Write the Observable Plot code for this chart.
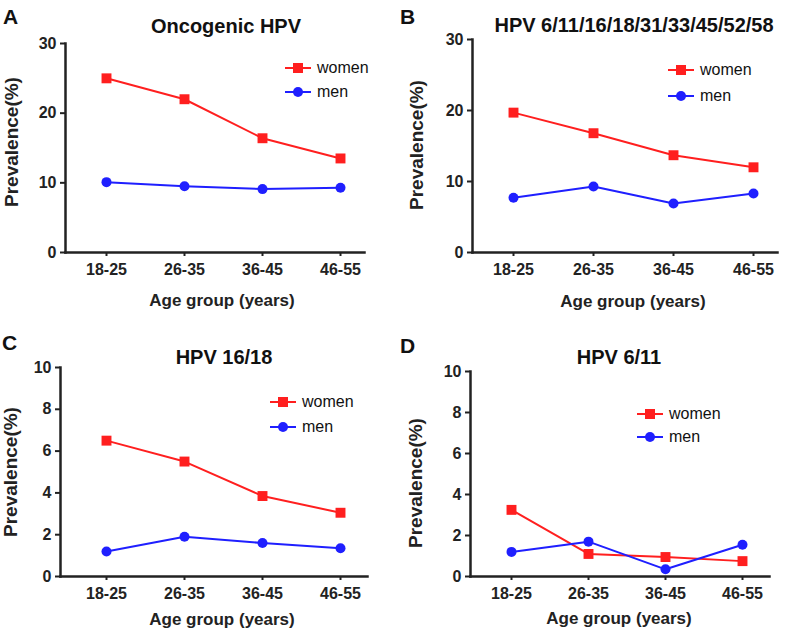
<!DOCTYPE html>
<html>
<head>
<meta charset="utf-8">
<script src="https://cdn.jsdelivr.net/npm/d3@7"></script>
<script src="https://cdn.jsdelivr.net/npm/@observablehq/plot@0.6"></script>
<style>
  html, body { margin: 0; padding: 0; background: #fff; }
  #root { position: relative; width: 794px; height: 636px; font-family: "Liberation Sans", Arial, sans-serif; color: #222; overflow: hidden; }
  .panel { position: absolute; width: 397px; height: 318px; }
  .panel svg { position: absolute; left: 0; top: 0; }
  .abs { position: absolute; white-space: nowrap; line-height: 1; }
  .letter { font-size: 21px; font-weight: bold; color: #111; }
  .title { font-size: 20px; font-weight: bold; color: #111; transform: translate(-50%, -50%); }
  .xlab { font-size: 17px; font-weight: bold; transform: translate(-50%, -50%); }
  .ylab { font-size: 19px; font-weight: bold; transform: translate(-50%, -50%) rotate(-90deg); }
  .leg { font-size: 16px; color: #111; transform: translateY(-50%); display: flex; align-items: center; }
  .leg svg { position: static; margin-right: 6px; }
</style>
</head>
<body>
<div id="root"></div>
<script>
// ---- data ----
const ages = ["18-25", "26-35", "36-45", "46-55"];
const series = ["women", "men"];
const panelLetters = ["A", "B", "C", "D"];
const panelTitles = ["Oncogenic HPV", "HPV 6/11/16/18/31/33/45/52/58", "HPV 16/18", "HPV 6/11"];
const womenA = [25.0, 22.0, 16.4, 13.5];
const menA   = [10.1, 9.5, 9.1, 9.3];
const womenB = [19.7, 16.8, 13.7, 12.0];
const menB   = [7.7, 9.3, 6.9, 8.3];
const womenC = [6.5, 5.5, 3.85, 3.05];
const menC   = [1.2, 1.9, 1.6, 1.35];
const womenD = [3.25, 1.1, 0.95, 0.75];
const menD   = [1.2, 1.7, 0.35, 1.55];
const yTicksWide = [0, 10, 20, 30];
const yTicksNarrow = [0, 2, 4, 6, 8, 10];
const xLabel = "Age group (years)";
const yLabel = "Prevalence(%)";

const RED = "#ff1f1f";
const BLUE = "#1f1fff";
const INK = "#222";

// ---- layout (pixels) ----
const layouts = [
  {left: 0,   top: 0,   ml: 65, mt: 43, mb: 66, mr: 33, xr: [105, 340], letter: [3, 6],  title: [226, 26], xl: [222, 300], yl: [11, 142], leg: [285, 68, 92]},
  {left: 397, top: 0,   ml: 75, mt: 39, mb: 66, mr: 17, xr: [116, 356], letter: [3, 6],  title: [237, 25], xl: [236, 301], yl: [19, 145], leg: [271, 70, 96]},
  {left: 0,   top: 318, ml: 60, mt: 49, mb: 60, mr: 30, xr: [105, 340], letter: [2, 14], title: [224, 39], xl: [222, 301], yl: [10, 154], leg: [270, 84, 109]},
  {left: 397, top: 318, ml: 73, mt: 53, mb: 60, mr: 25, xr: [114, 345], letter: [3, 17], title: [222, 39], xl: [222, 300], yl: [18, 165], leg: [240, 96, 119]}
];
const panelData = [
  {women: womenA, men: menA, ymax: 30, ticks: yTicksWide},
  {women: womenB, men: menB, ymax: 30, ticks: yTicksWide},
  {women: womenC, men: menC, ymax: 10, ticks: yTicksNarrow},
  {women: womenD, men: menD, ymax: 10, ticks: yTicksNarrow}
];

const root = document.getElementById("root");

function el(cls, text, x, y) {
  const d = document.createElement("div");
  d.className = "abs " + cls;
  d.textContent = text;
  d.style.left = x + "px";
  d.style.top = y + "px";
  return d;
}

function legendIcon(kind) {
  const ns = "http://www.w3.org/2000/svg";
  const s = document.createElementNS(ns, "svg");
  s.setAttribute("width", 26); s.setAttribute("height", 12);
  const color = kind === "women" ? RED : BLUE;
  const l = document.createElementNS(ns, "line");
  l.setAttribute("x1", 0); l.setAttribute("x2", 26); l.setAttribute("y1", 6); l.setAttribute("y2", 6);
  l.setAttribute("stroke", color); l.setAttribute("stroke-width", 2);
  s.appendChild(l);
  if (kind === "women") {
    const r = document.createElementNS(ns, "rect");
    r.setAttribute("x", 8); r.setAttribute("y", 1); r.setAttribute("width", 10); r.setAttribute("height", 10);
    r.setAttribute("fill", color); s.appendChild(r);
  } else {
    const c = document.createElementNS(ns, "circle");
    c.setAttribute("cx", 13); c.setAttribute("cy", 6); c.setAttribute("r", 5);
    c.setAttribute("fill", color); s.appendChild(c);
  }
  return s;
}

panelData.forEach((pd, i) => {
  const L = layouts[i];
  const panel = document.createElement("div");
  panel.className = "panel";
  panel.style.left = L.left + "px";
  panel.style.top = L.top + "px";

  const rows = [];
  series.forEach(s => pd[s].forEach((v, j) => rows.push({age: ages[j], value: v, series: s})));
  const women = rows.filter(d => d.series === "women");
  const men = rows.filter(d => d.series === "men");

  const chart = Plot.plot({
    width: 397,
    height: 318,
    marginLeft: L.ml,
    marginTop: L.mt,
    marginBottom: L.mb,
    marginRight: L.mr,
    style: {fontFamily: '"Liberation Sans", Arial, sans-serif', background: "transparent", color: INK},
    x: {type: "point", domain: ages, range: L.xr, padding: 0},
    y: {domain: [0, pd.ymax]},
    marks: [
      Plot.axisY({ticks: pd.ticks, tickSize: 5, tickPadding: 4, fontSize: 16, fontWeight: "bold", stroke: INK, fill: INK, strokeWidth: 2, label: null}),
      Plot.axisX({tickSize: 4, tickPadding: 7, fontSize: 16, fontWeight: "bold", stroke: INK, fill: INK, strokeWidth: 2, label: null}),
      Plot.frame({anchor: "left", stroke: INK, strokeWidth: 2.5}),
      Plot.frame({anchor: "bottom", stroke: INK, strokeWidth: 2.5}),
      Plot.line(women, {x: "age", y: "value", stroke: RED, strokeWidth: 2}),
      Plot.line(men, {x: "age", y: "value", stroke: BLUE, strokeWidth: 2}),
      Plot.dot(women, {x: "age", y: "value", symbol: "square", r: 5.6, fill: RED}),
      Plot.dot(men, {x: "age", y: "value", symbol: "circle", r: 5, fill: BLUE})
    ]
  });
  panel.appendChild(chart);

  panel.appendChild(el("letter", panelLetters[i], L.letter[0], L.letter[1]));
  panel.appendChild(el("title", panelTitles[i], L.title[0], L.title[1]));
  panel.appendChild(el("xlab", xLabel, L.xl[0], L.xl[1]));
  panel.appendChild(el("ylab", yLabel, L.yl[0], L.yl[1]));

  series.forEach((s, k) => {
    const row = el("leg", "", L.leg[0], L.leg[1 + k]);
    row.appendChild(legendIcon(s));
    row.appendChild(document.createTextNode(s));
    panel.appendChild(row);
  });

  root.appendChild(panel);
});
</script>
</body>
</html>
